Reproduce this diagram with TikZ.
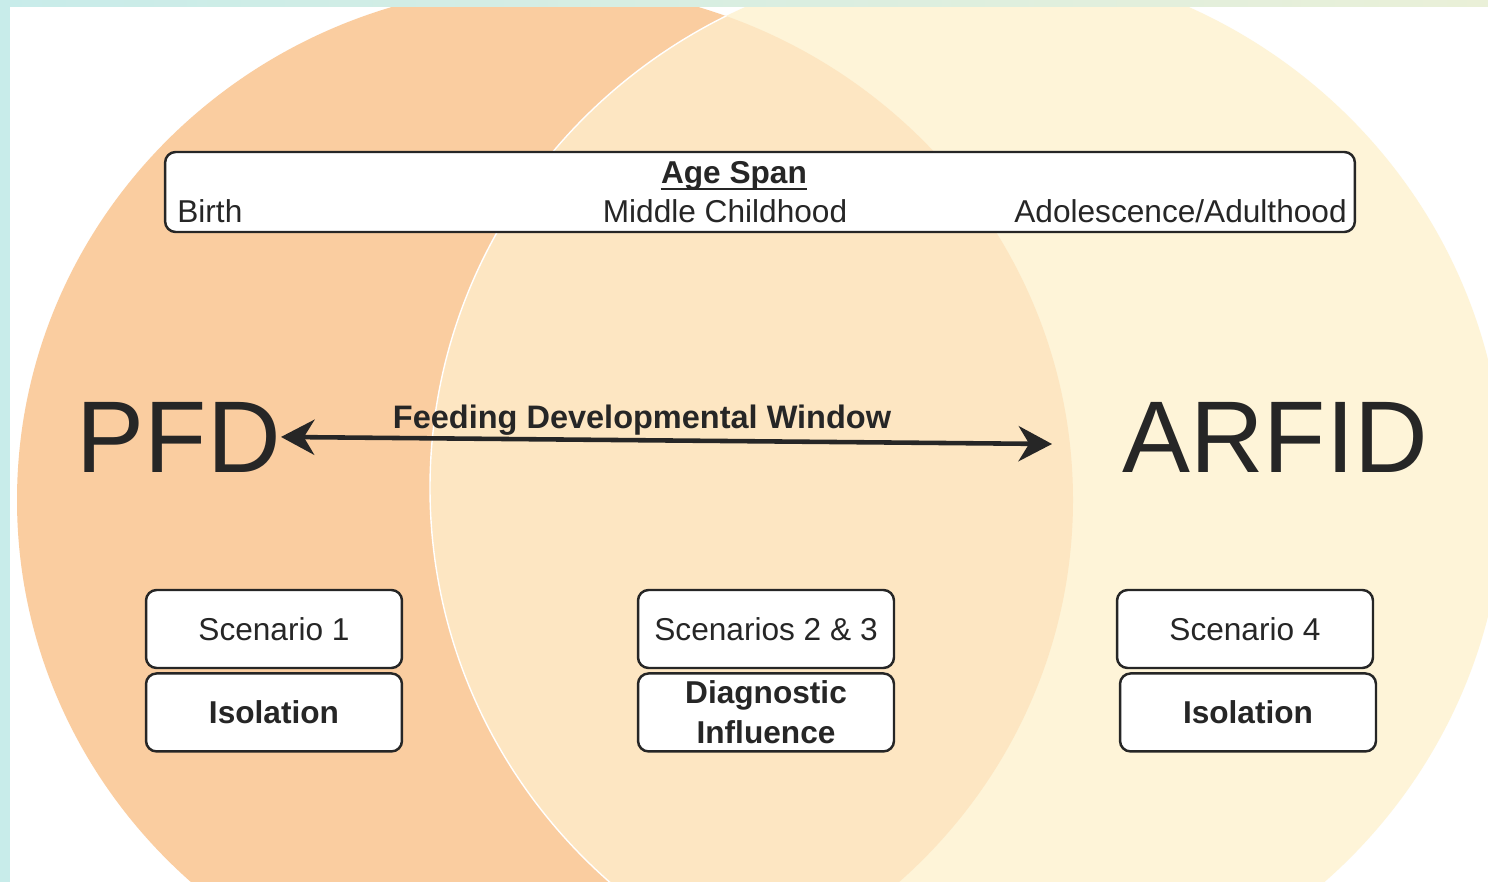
\documentclass[tikz,border=0pt]{standalone}
\usepackage{fontspec}
\setmainfont{Liberation Sans}
\usetikzlibrary{arrows.meta,positioning}
\definecolor{pfdorange}{RGB}{250,205,160}
\definecolor{arfidcream}{RGB}{254,244,216}
\definecolor{mixpeach}{RGB}{253,230,194}
\definecolor{inkgray}{RGB}{38,38,38}
\definecolor{edgecyan}{RGB}{200,236,234}
\definecolor{edgelime}{RGB}{234,240,216}
\tikzset{
  card/.style={draw=inkgray, line width=1.4pt, rounded corners=6pt, fill=white,
    minimum width=5.12cm, minimum height=1.56cm, inner sep=0pt, align=center,
    text=inkgray, font=\fontsize{18}{22.5}\selectfont},
  agetxt/.style={inner sep=0pt, text=inkgray, font=\fontsize{18}{20}\selectfont},
  bigname/.style={inner sep=0pt, text=inkgray, font=\fontsize{58}{60}\selectfont},
  span/.style={{Stealth[length=19pt,width=20pt,inset=6pt]}-{Stealth[length=19pt,width=20pt,inset=6pt]},
    line width=2.6pt, draw=inkgray}
}

\begin{document}
\begin{tikzpicture}[x=0.02cm, y=-0.02cm]
  \useasboundingbox (0,0) rectangle (1488,882);
  \fill[white] (0,0) rectangle (1488,882);

  % the two overlapping fields
  \begin{scope}
    \clip (10,7) rectangle (1488,882);
    \fill[pfdorange] (545,500) ellipse [x radius=528, y radius=515];
    \fill[arfidcream] (967,488) ellipse [x radius=537, y radius=528];
    \clip (545,500) ellipse [x radius=528, y radius=515];
    \fill[mixpeach] (967,488) ellipse [x radius=537, y radius=528];
    \draw[white, line width=0.8pt] (967,488) ellipse [x radius=537, y radius=528];
  \end{scope}

  % frame strips
  \shade[left color=edgecyan, right color=edgelime] (0,0) rectangle (1488,7);
  \fill[edgecyan] (0,0) rectangle (10,882);

  % age span bar
  \node[card, minimum width=23.8cm, minimum height=1.6cm] (agebox) at (760,192) {};
  \node[agetxt, anchor=base, font=\fontsize{18}{20}\selectfont\bfseries] (agespan) at (734,183) {Age Span};
  \draw[inkgray, line width=1.3pt] ([yshift=-3.5pt]agespan.base west) -- ([yshift=-3.5pt]agespan.base east);
  \node[agetxt, anchor=base west] (birth) at (177,222) {Birth};
  \node[agetxt, anchor=base] (midchild) at (725,222) {Middle Childhood};
  \node[agetxt, anchor=base east] (adult) at (1347,222) {Adolescence/Adulthood};

  % diagnoses and the window between them
  \node[bigname, anchor=base east] (pfd) at (281,472) {PFD};
  \node[bigname, anchor=base west] (arfid) at (1122,472) {ARFID};
  \coordinate (winend) at (1052,444);
  \draw[span] (pfd.east) -- (winend);
  \node[agetxt, anchor=base, font=\fontsize{18.5}{20}\selectfont\bfseries] (window) at (642,428)
    {Feeding Developmental Window};

  % scenarios
  \node[card] (sc1) at (274,629) {Scenario 1};
  \node[card, below=0.06cm of sc1, font=\fontsize{18}{22.5}\selectfont\bfseries] (iso1) {Isolation};
  \node[card] (sc23) at (766,629) {Scenarios 2 \& 3};
  \node[card, below=0.06cm of sc23, font=\fontsize{18}{22.5}\selectfont\bfseries] (diag) {Diagnostic\\Influence};
  \node[card] (sc4) at (1245,629) {Scenario 4};
  \node[card, below=0.06cm of sc4, xshift=0.06cm, font=\fontsize{18}{22.5}\selectfont\bfseries] (iso4) {Isolation};
\end{tikzpicture}
\end{document}
